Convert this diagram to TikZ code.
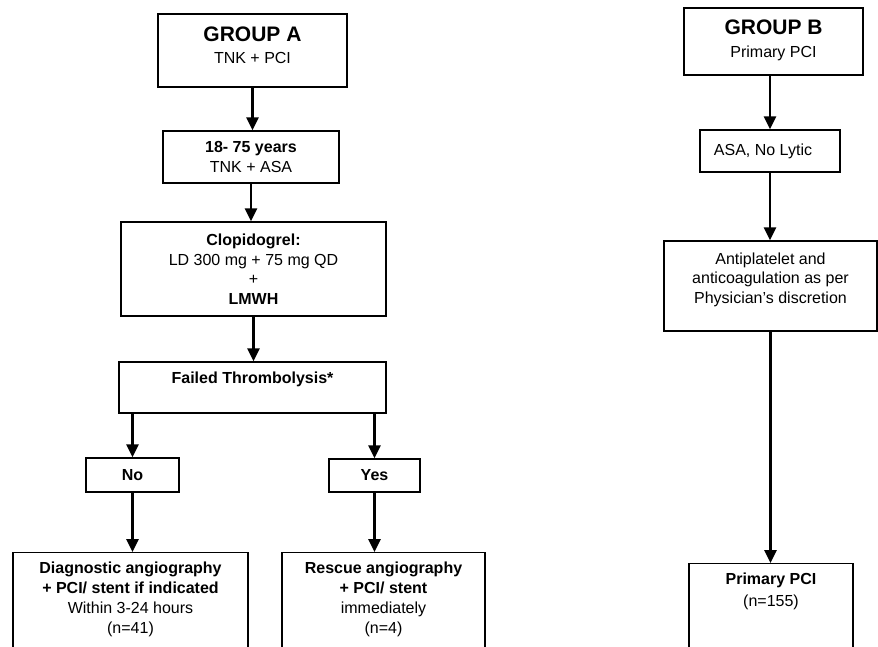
\documentclass[tikz,border=0pt]{standalone}
\usepackage{fontspec}
\setmainfont{Liberation Sans}
\usetikzlibrary{arrows.meta}

\tikzset{
  box/.style={draw, line width=1.3pt, inner sep=0pt, align=center},
  txt/.style={inner sep=0pt, align=center, anchor=north},
  arr/.style={line width=2.8pt, ->, >={Triangle[length=13pt,width=12pt]}},
}

\begin{document}
\begin{tikzpicture}[x=1pt, y=-1pt, font=\fontsize{16}{19.5}\selectfont]
\useasboundingbox (0,0) rectangle (878,646);
\clip (0,0) rectangle (878,646);
% group A
\node[box, minimum width=189, minimum height=73] (grpA) at (252.5,50.5) {};
\node[txt] (grpAt) at ([yshift=-13pt]grpA.north)
  {{\fontsize{21}{25}\selectfont\bfseries GROUP A}\\[3pt]TNK + PCI};
\node[box, minimum width=176, minimum height=52] (age) at (251,157)
  {\bfseries 18- 75 years\\TNK + ASA};
\node[box, minimum width=265, minimum height=94] (clop) at (253.5,269)
  {\bfseries Clopidogrel:\\LD 300 mg + 75 mg QD\\+\\\bfseries LMWH};
\node[box, minimum width=267, minimum height=51] (fail) at (252.5,387.5) {};
\node[txt] (failt) at ([yshift=-10pt]fail.north) {\bfseries Failed Thrombolysis*};
\node[box, minimum width=93, minimum height=34] (no) at (132.5,475) {\bfseries No};
\node[box, minimum width=91, minimum height=33] (yes) at (374.5,475.5) {\bfseries Yes};
\node[box, minimum width=235, minimum height=150, anchor=north] (diag) at (130.5,552) {};
\node[txt] (diagt) at ([yshift=-10pt]diag.north)
  {\bfseries Diagnostic angiography\\\bfseries + PCI/ stent if indicated\\[1pt]Within 3-24 hours\\(n=41)};
\node[box, minimum width=203, minimum height=150, anchor=north] (resc) at (383.5,552) {};
\node[txt] (resct) at ([yshift=-10pt]resc.north)
  {\bfseries Rescue angiography\\\bfseries + PCI/ stent\\[1pt]immediately\\(n=4)};
\draw[arr] (grpA.south) -- (grpA.south |- age.north);
\draw[arr] (age.south) -- (age.south |- clop.north);
\draw[arr] (clop.south) -- (clop.south |- fail.north);
\draw[arr] (no.north |- fail.south) -- (no.north);
\draw[arr] (yes.north |- fail.south) -- (yes.north);
\draw[arr] (no.south) -- (no.south |- diag.north);
\draw[arr] (yes.south) -- (yes.south |- resc.north);
% group B
\node[box, minimum width=179, minimum height=67] (grpB) at (773.5,41.5) {};
\node[txt] (grpBt) at ([yshift=-12pt]grpB.north)
  {{\fontsize{21}{25}\selectfont\bfseries GROUP B}\\[4pt]Primary PCI};
\node[box, minimum width=140, minimum height=42] (asa) at (770,151)
  {\hspace*{-14pt}ASA, No Lytic};
\node[box, minimum width=213, minimum height=90] (anti) at (770.5,286) {};
\node[txt] (antit) at ([yshift=-12pt]anti.north)
  {Antiplatelet and\\anticoagulation as per\\Physician's discretion};
\node[box, minimum width=164, minimum height=150, anchor=north] (ppci) at (771,563) {};
\node[txt] (ppcit) at ([yshift=-10pt]ppci.north) {\bfseries Primary PCI\\[2pt](n=155)};
\draw[arr] (grpB.south -| asa.north) -- (asa.north);
\draw[arr] (asa.south) -- (asa.south |- anti.north);
\draw[arr] (anti.south) -- (anti.south |- ppci.north);
\end{tikzpicture}
\end{document}
